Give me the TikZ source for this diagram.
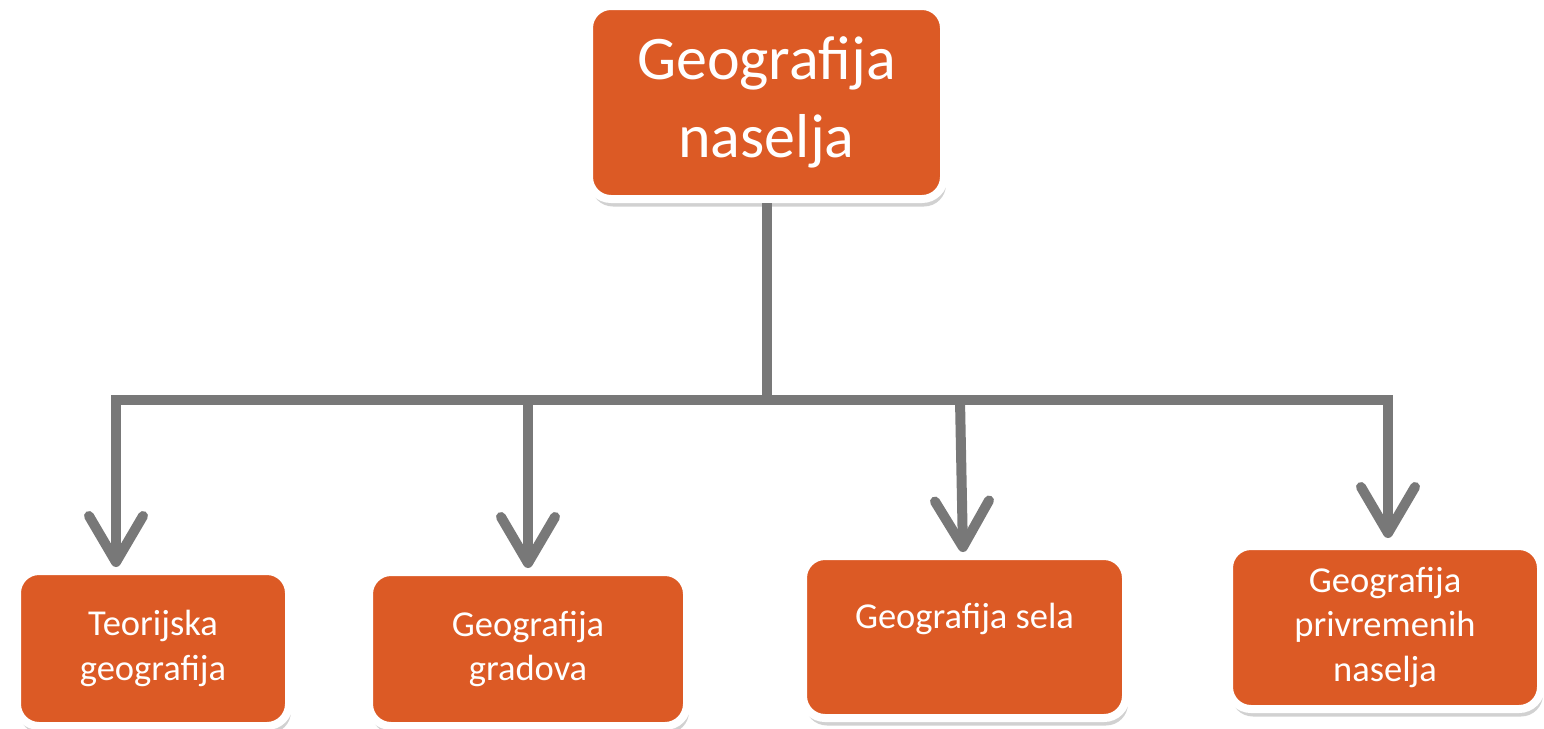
\documentclass[tikz,border=0pt]{standalone}
\usepackage{fontspec}
\setmainfont{Carlito}
\usetikzlibrary{arrows.meta,shadows}
\definecolor{boxorange}{HTML}{DC5A25}
\definecolor{linkgray}{HTML}{787878}
\begin{document}
\begin{tikzpicture}[x=1pt,y=-1pt,
  box/.style={draw=white, line width=8pt, fill=boxorange, rounded corners=22pt,
    text=white, align=center, inner sep=0pt,
    drop shadow={shadow xshift=2pt, shadow yshift=-7.5pt, fill=black, opacity=0.18}},
  smalltext/.style={font=\fontsize{36.5}{44.5}\selectfont},
  link/.style={draw=linkgray, line width=10pt},
  tipped/.style={-{Straight Barb[length=46pt,width=54pt,round]}}]
\useasboundingbox (0,0) rectangle (1544,728);

\node[box, minimum width=355pt, minimum height=193pt,
  font=\fontsize{62}{78}\selectfont] (top) at (766.5,102.5) {Geografija\\naselja};

\node[box, smalltext, minimum width=272pt, minimum height=155pt] (b1) at (153,648.5) {Teorijska\\geografija};
\node[box, smalltext, minimum width=318pt, minimum height=154pt] (b2) at (528,649) {Geografija\\gradova};
\node[box, smalltext, minimum width=323pt, minimum height=162pt, text height=24pt, text depth=42pt] (b3) at (964.5,637) {Geografija sela};
\node[box, smalltext, minimum width=312pt, minimum height=163pt] (b4) at (1385,627.5) {Geografija\\privremenih\\naselja};

\coordinate (hub) at (767,400);
\coordinate (j1) at (116,400);
\coordinate (j2) at (528,400);
\coordinate (j3) at (960,400);
\coordinate (j4) at (1388,400);

\draw[link] (top.south -| hub) -- (hub);
\draw[link, line cap=rect] (j1) -- (j4);
\draw[link, tipped] (j1) -- (j1 |- b1.north);
\draw[link, tipped] (j2) -- (b2.north);
\draw[link, tipped] (j3) -- ([xshift=-1.5pt]b3.north);
\draw[link, tipped] (j4) -- ([yshift=4pt]j4 |- b4.north);
\end{tikzpicture}
\end{document}
